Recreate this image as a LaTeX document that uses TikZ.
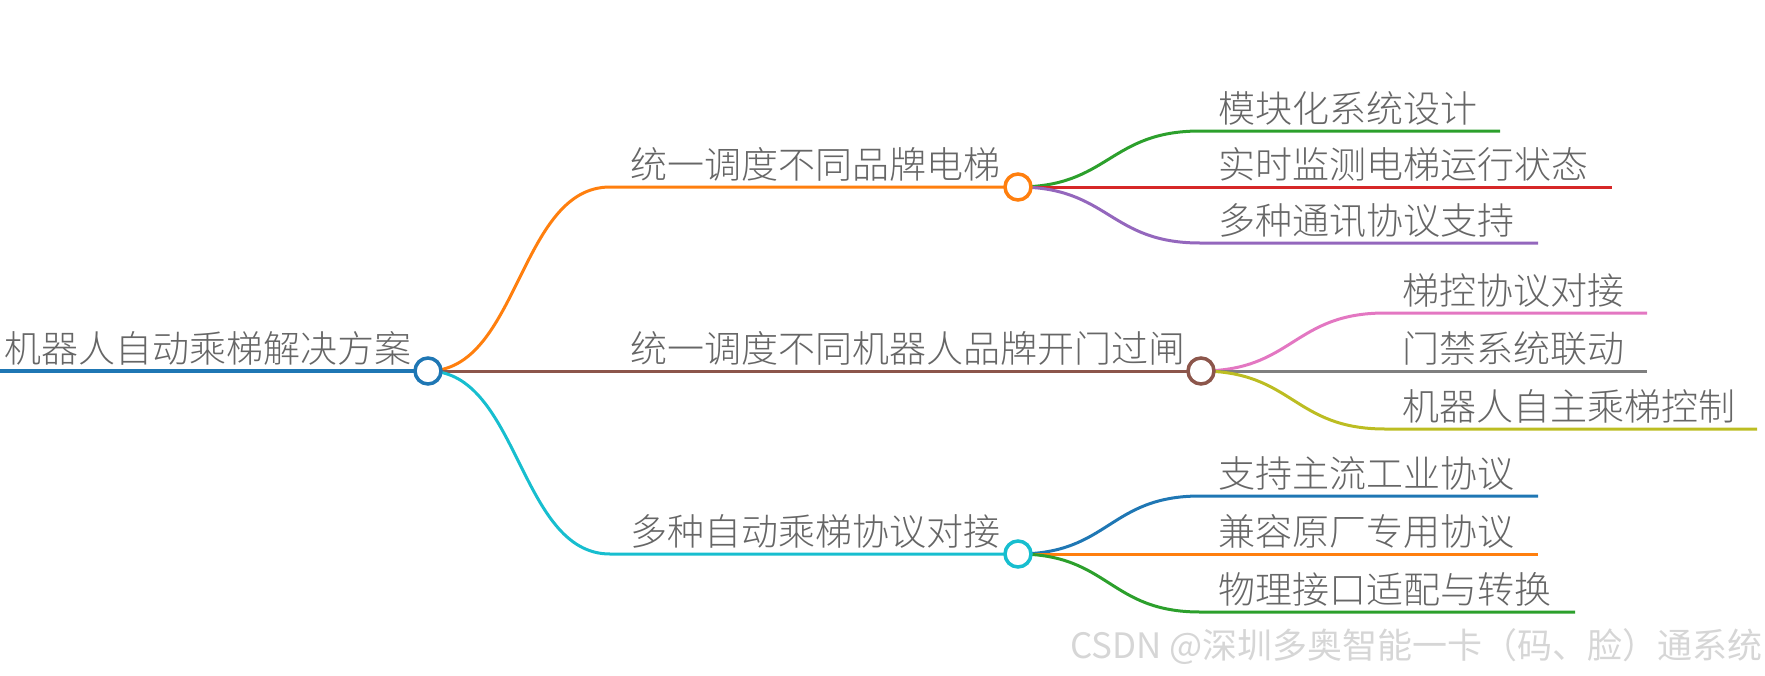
\documentclass[tikz,border=0pt]{standalone}
\usepackage{fontspec}
\setmainfont{Noto Sans CJK SC}[UprightFont={* Light}]
\newfontfamily\wmfont{Noto Sans CJK SC}
\usetikzlibrary{backgrounds}
\definecolor{tblue}{HTML}{1F77B4}
\definecolor{torange}{HTML}{FF7F0E}
\definecolor{tgreen}{HTML}{2CA02C}
\definecolor{tred}{HTML}{D62728}
\definecolor{tpurple}{HTML}{9467BD}
\definecolor{tbrown}{HTML}{8C564B}
\definecolor{tpink}{HTML}{E377C2}
\definecolor{tgray}{HTML}{7F7F7F}
\definecolor{tolive}{HTML}{BCBD22}
\definecolor{tcyan}{HTML}{17BECF}
\definecolor{txt}{HTML}{666666}
\definecolor{wmgray}{HTML}{D6D6D6}
\begin{document}
\begin{tikzpicture}[x=1pt,y=-1pt,
  link/.style={line width=3pt},
  rootlink/.style={line width=4pt},
  dot/.style={circle, draw, line width=3.5pt, fill=white, minimum size=26pt, inner sep=0pt},
  lbl/.style={anchor=base west, inner sep=0pt, text=txt, font=\fontsize{37}{40}\selectfont},
  rootlbl/.style={anchor=base west, inner sep=0pt, text=txt, font=\fontsize{37}{40}\selectfont}]
\useasboundingbox (0,0) rectangle (1765,675);

% circles
\node[dot, draw=tblue] (c0) at (428,371) {};
\node[dot, draw=torange] (b1) at (1018,187) {};
\node[dot, draw=tbrown] (b2) at (1201,371) {};
\node[dot, draw=tcyan] (b3) at (1018,554) {};

% free ends
\coordinate (rs) at (0,371);
\coordinate (k1) at (610,187);
\coordinate (k3) at (610,554);
\coordinate (g1a) at (1200,131); \coordinate (g1b) at (1500,131);
\coordinate (g2a) at (1200,187); \coordinate (g2b) at (1612,187);
\coordinate (g3a) at (1200,243); \coordinate (g3b) at (1538,243);
\coordinate (h1a) at (1385,313); \coordinate (h1b) at (1647,313);
\coordinate (h2a) at (1385,371); \coordinate (h2b) at (1647,371);
\coordinate (h3a) at (1385,429); \coordinate (h3b) at (1757,429);
\coordinate (m1a) at (1200,496); \coordinate (m1b) at (1538,496);
\coordinate (m2a) at (1200,554); \coordinate (m2b) at (1538,554);
\coordinate (m3a) at (1200,612); \coordinate (m3b) at (1575,612);

% labels
\node[rootlbl] (t0) at (4,362) {机器人自动乘梯解决方案};
\node[lbl] (t1) at (630,178) {统一调度不同品牌电梯};
\node[lbl] (t2) at (630,362) {统一调度不同机器人品牌开门过闸};
\node[lbl] (t3) at (630,545) {多种自动乘梯协议对接};
\node[lbl] (u1) at (1218,122) {模块化系统设计};
\node[lbl] (u2) at (1218,178) {实时监测电梯运行状态};
\node[lbl] (u3) at (1218,234) {多种通讯协议支持};
\node[lbl] (v1) at (1402,304) {梯控协议对接};
\node[lbl] (v2) at (1402,362) {门禁系统联动};
\node[lbl] (v3) at (1402,420) {机器人自主乘梯控制};
\node[lbl] (w1) at (1218,487) {支持主流工业协议};
\node[lbl] (w2) at (1218,545) {兼容原厂专用协议};
\node[lbl] (w3) at (1218,603) {物理接口适配与转换};
\node[anchor=base east, inner sep=0pt, text=wmgray, font=\wmfont\fontsize{35}{38}\selectfont] (wm) at (1763,658) {CSDN @深圳多奥智能一卡（码、脸）通系统};

\begin{scope}[on background layer]
\draw[rootlink, tblue] (rs) -- (c0.center);
\draw[link, torange] (c0.center) .. controls (519,371) and (519,187) .. (k1) -- (b1.center);
\draw[link, tbrown] (c0.center) -- (b2.center);
\draw[link, tcyan] (c0.center) .. controls (519,371) and (519,554) .. (k3) -- (b3.center);

\draw[link, tgreen] (b1.center) .. controls (1109,187) and (1109,131) .. (g1a) -- (g1b);
\draw[link, tred] (b1.center) -- (g2a) -- (g2b);
\draw[link, tpurple] (b1.center) .. controls (1109,187) and (1109,243) .. (g3a) -- (g3b);

\draw[link, tpink] (b2.center) .. controls (1293,371) and (1293,313) .. (h1a) -- (h1b);
\draw[link, tgray] (b2.center) -- (h2a) -- (h2b);
\draw[link, tolive] (b2.center) .. controls (1293,371) and (1293,429) .. (h3a) -- (h3b);

\draw[link, tblue] (b3.center) .. controls (1109,554) and (1109,496) .. (m1a) -- (m1b);
\draw[link, torange] (b3.center) -- (m2a) -- (m2b);
\draw[link, tgreen] (b3.center) .. controls (1109,554) and (1109,612) .. (m3a) -- (m3b);
\end{scope}
\end{tikzpicture}
\end{document}
